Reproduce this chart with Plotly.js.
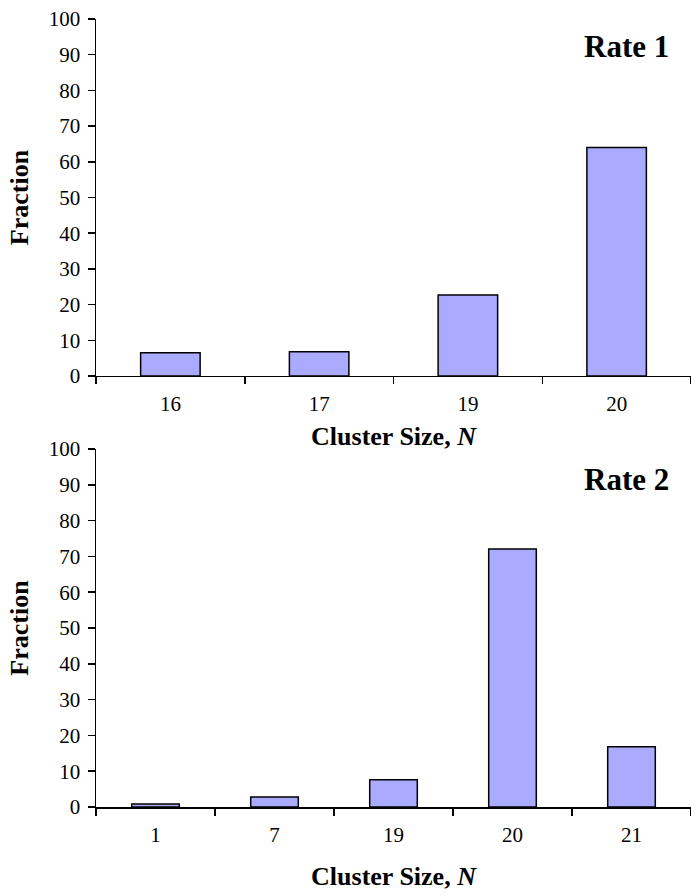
<!DOCTYPE html>
<html>
<head>
<meta charset="utf-8">
<script src="https://cdn.plot.ly/plotly-3.0.1.min.js"></script>
<style>html,body{margin:0;padding:0;background:#fff;}#chart{width:691px;height:894px;}</style>
</head>
<body>
<div id="chart"></div>
<script>
const categories1 = ['16', '17', '19', '20'];
const values1 = [6.5, 6.8, 22.7, 64];
const categories2 = ['1', '7', '19', '20', '21'];
const values2 = [0.85, 2.8, 7.6, 72.1, 16.8];
const yTicks = [0, 10, 20, 30, 40, 50, 60, 70, 80, 90, 100];
const panelLabels = ['Rate 1', 'Rate 2'];
const xTitle = 'Cluster Size, <i>N</i>';
const yTitle = 'Fraction';

const FONT = 'Liberation Serif, Times New Roman, serif';
const barStyle = {color: '#aaaaff', line: {color: '#000', width: 1.5}};

const traces = [
  {type: 'bar', x: categories1, y: values1, marker: barStyle, xaxis: 'x', yaxis: 'y', hoverinfo: 'x+y'},
  {type: 'bar', x: categories2, y: values2, marker: barStyle, xaxis: 'x2', yaxis: 'y2', hoverinfo: 'x+y'}
];

function xAxis(anchor, standoff) {
  return {
    type: 'category', anchor: anchor, domain: [0, 1],
    showline: true, linecolor: '#000', linewidth: 1.5,
    ticks: 'outside', tickson: 'boundaries', ticklen: 7, tickwidth: 1.5, tickcolor: '#000',
    ticklabelstandoff: 8,
    tickfont: {family: FONT, size: 21, color: '#000'},
    showgrid: false, zeroline: false, fixedrange: true,
    title: {text: '<b>' + xTitle + '</b>', font: {family: FONT, size: 26, color: '#000'}, standoff: standoff}
  };
}
function yAxis(anchor, domain) {
  return {
    anchor: anchor, domain: domain, range: [0, 100],
    tickvals: yTicks, ticktext: yTicks.map(String),
    showline: true, linecolor: '#000', linewidth: 1.5,
    ticks: 'outside', ticklen: 7, tickwidth: 1.5, tickcolor: '#000',
    ticklabelstandoff: 3,
    tickfont: {family: FONT, size: 21, color: '#000'},
    showgrid: false, zeroline: false, fixedrange: true,
    title: {text: '<b>' + yTitle + '</b>', font: {family: FONT, size: 26, color: '#000'}, standoff: 12}
  };
}

const layout = {
  width: 691, height: 894,
  margin: {l: 96, r: 0, t: 19, b: 87},
  paper_bgcolor: '#fff', plot_bgcolor: '#fff',
  showlegend: false, bargap: 0.6,
  font: {family: FONT, color: '#000'},
  xaxis: xAxis('y', 12),
  yaxis: yAxis('x', [0.547, 1]),
  xaxis2: xAxis('y2', 21),
  yaxis2: yAxis('x2', [0, 0.4543]),
  annotations: [
    {text: '<b>' + panelLabels[0] + '</b>', xref: 'paper', yref: 'paper', x: 0.892, y: 0.9645,
     xanchor: 'center', yanchor: 'middle', showarrow: false, font: {family: FONT, size: 31, color: '#000'}},
    {text: '<b>' + panelLabels[1] + '</b>', xref: 'paper', yref: 'paper', x: 0.892, y: 0.416,
     xanchor: 'center', yanchor: 'middle', showarrow: false, font: {family: FONT, size: 31, color: '#000'}}
  ]
};

Plotly.newPlot('chart', traces, layout, {displayModeBar: false, staticPlot: true});
</script>
</body>
</html>
